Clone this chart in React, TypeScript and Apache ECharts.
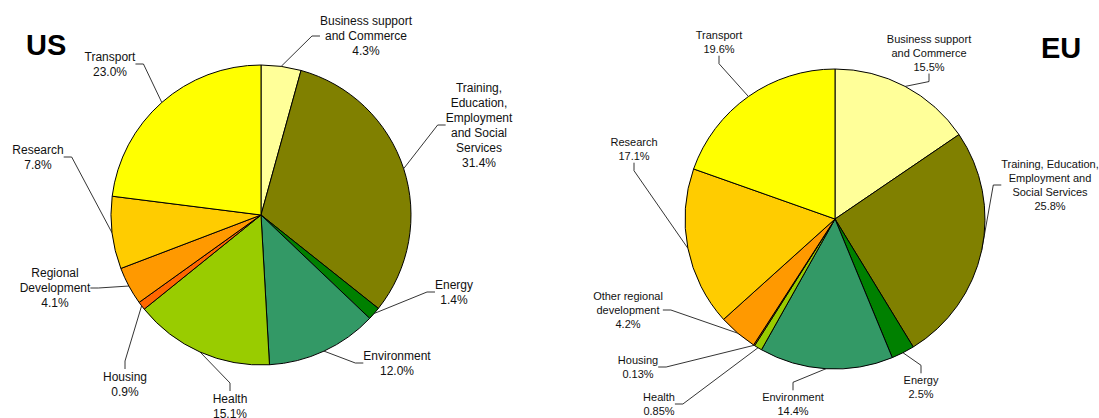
import React, { useEffect, useRef } from "react";
import * as echarts from "echarts";

// ---- Data ----
const usCategories = [
  "Business support\nand Commerce",
  "Training,\nEducation,\nEmployment\nand Social\nServices",
  "Energy",
  "Environment",
  "Health",
  "Housing",
  "Regional\nDevelopment",
  "Research",
  "Transport",
];
const usValues = [4.3, 31.4, 1.4, 12.0, 15.1, 0.9, 4.1, 7.8, 23.0];

const euCategories = [
  "Business support\nand Commerce",
  "Training, Education,\nEmployment and\nSocial Services",
  "Energy",
  "Environment",
  "Health",
  "Housing",
  "Other regional\ndevelopment",
  "Research",
  "Transport",
];
const euValues = [15.5, 25.8, 2.5, 14.4, 0.85, 0.13, 4.2, 17.1, 19.6];

const sliceColors = [
  "#FFFF99",
  "#808000",
  "#008000",
  "#339966",
  "#99CC00",
  "#FF6600",
  "#FF9900",
  "#FFCC00",
  "#FFFF00",
];

// ---- Label layout (pixel centres of label blocks) ----
const usLabelPos = [
  [366, 36],
  [479, 125],
  [454, 292],
  [397, 363],
  [230, 406],
  [125, 384],
  [55, 288],
  [38, 157],
  [110, 64],
];
const euLabelPos = [
  [929, 53],
  [1050, 185],
  [921, 387],
  [793, 404],
  [659, 404],
  [638, 367],
  [628, 310],
  [634, 149],
  [719, 42],
];

const fmtPct = (v: number) =>
  Math.abs(v * 10 - Math.round(v * 10)) < 1e-9 ? v.toFixed(1) : v.toFixed(2);

const FONT = "'Liberation Sans', Arial, sans-serif";

function makeSeries(
  cats: string[],
  vals: number[],
  center: number[],
  radius: number,
  fontSize: number,
  lineHeight: number,
  pos: number[][]
) {
  return {
    type: "pie",
    center,
    radius,
    startAngle: 90,
    clockwise: true,
    avoidLabelOverlap: false,
    data: cats.map((c, i) => ({
      name: c,
      value: vals[i],
      itemStyle: { color: sliceColors[i] },
    })),
    itemStyle: { borderColor: "#000", borderWidth: 1 },
    emphasis: { disabled: true },
    label: {
      show: true,
      position: "outside",
      color: "#111",
      fontFamily: FONT,
      fontSize,
      lineHeight,
      align: "center",
      formatter: (p: any) => `${p.name}\n${fmtPct(p.value)}%`,
    },
    labelLine: {
      show: true,
      length: 10,
      length2: 8,
      lineStyle: { color: "#000", width: 0.8 },
    },
    labelLayout: (p: any) => {
      const xy = pos[p.dataIndex];
      return { x: xy[0], y: xy[1], align: "center", verticalAlign: "middle" };
    },
  };
}

export default function App() {
  const ref = useRef<HTMLDivElement>(null);
  useEffect(() => {
    if (!ref.current) return;
    const chart = echarts.init(ref.current, undefined, { renderer: "svg" });
    chart.setOption({
      animation: false,
      backgroundColor: "#fff",
      title: [
        {
          text: "US",
          left: 21,
          top: 25,
          textStyle: { fontFamily: FONT, fontSize: 29, fontWeight: "bold", color: "#000" },
        },
        {
          text: "EU",
          left: 1036,
          top: 28,
          textStyle: { fontFamily: FONT, fontSize: 29, fontWeight: "bold", color: "#000" },
        },
      ],
      series: [
        makeSeries(usCategories, usValues, [261, 215], 150, 12, 15, usLabelPos),
        makeSeries(euCategories, euValues, [835, 219], 150, 11, 13.7, euLabelPos),
      ],
    });
    return () => chart.dispose();
  }, []);
  return (
    <div
      ref={ref}
      style={{ position: "fixed", left: 0, top: 0, width: 1099, height: 418, background: "#fff" }}
    />
  );
}
